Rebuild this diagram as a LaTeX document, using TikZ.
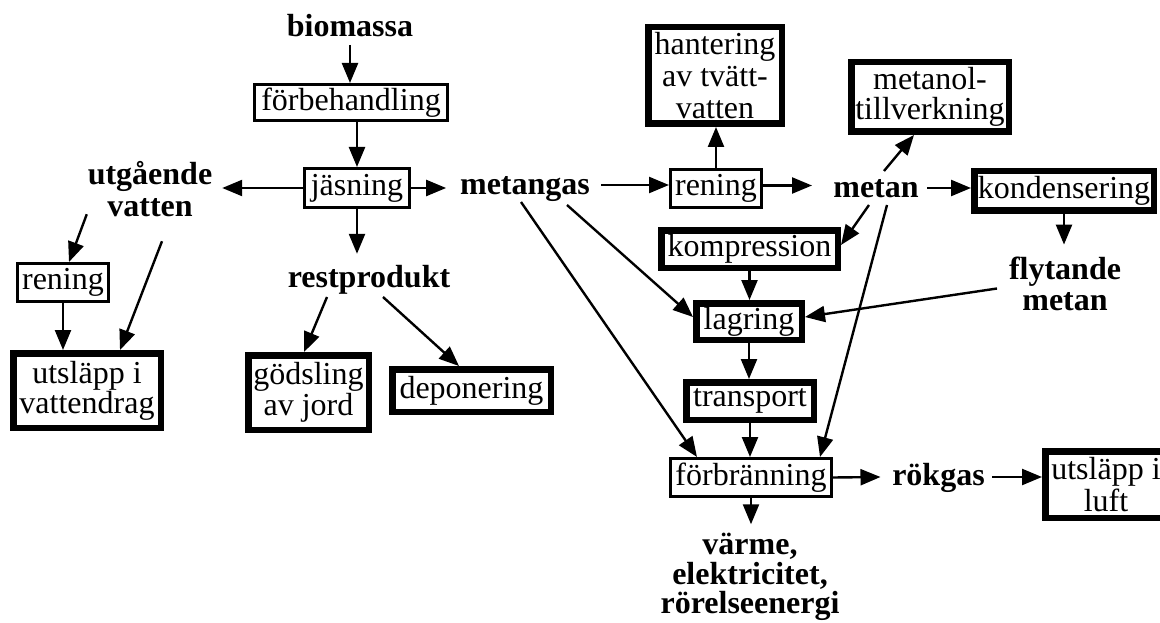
\documentclass[tikz,border=0pt]{standalone}
\usepackage{fontspec}
\setmainfont{Liberation Serif}
\usetikzlibrary{arrows.meta,calc}
\tikzset{
  txt/.style={font=\fontsize{32}{31}\selectfont, align=center, inner sep=0pt, outer sep=0pt},
  lab/.style={txt, font=\fontsize{32}{31}\selectfont\bfseries},
  thinbox/.style={txt, draw, line width=2.6pt, outer sep=1.3pt},
  thickbox/.style={txt, draw, line width=6.5pt, outer sep=3.25pt},
  arr/.style={line width=2.4pt, -{Triangle[length=20pt,width=16pt]}}
}
\begin{document}
\begin{tikzpicture}[x=1pt,y=-1pt]
\useasboundingbox (0,0) rectangle (1160,623);
\fill[white] (0,0) rectangle (1160,623);
% labels
\node[lab, anchor=base] (bio) at (350,37) {biomassa};
\node[lab, font=\fontsize{32}{32}\selectfont\bfseries] (utg) at (150,189.5) {utgående\\vatten};
\node[lab, anchor=base] (mg) at (525,194) {metangas};
\node[lab, anchor=base] (rest) at (369,287) {restprodukt};
\node[lab, anchor=base] (metan) at (876,197) {metan};
\node[lab] (flyt) at (1065,283.5) {flytande\\metan};
\node[lab, font=\fontsize{32}{29.5}\selectfont\bfseries] (varme) at (750,577) {värme,\\elektricitet,\\rörelseenergi};
\node[lab, anchor=base] (rok) at (938.5,485) {rökgas};
% boxes
\node[thinbox, minimum width=193.4, minimum height=36.4] (forb) at (351,102.5) {förbehandling};
\node[thinbox, minimum width=105.4, minimum height=39.4] (jas) at (357,188) {jäsning};
\node[thinbox, minimum width=91.4, minimum height=38.4] (renL) at (63,282.5) {rening};
\node[thinbox, minimum width=91.4, minimum height=38.4] (renM) at (716,188.5) {rening};
\node[thinbox, minimum width=161.4, minimum height=38.4] (forbr) at (751,477.5) {förbränning};
\node[thickbox, minimum width=147.5, minimum height=74.5, font=\fontsize{32}{30}\selectfont] (utsV) at (87,390.5) {utsläpp i\\vattendrag};
\node[thickbox, minimum width=120.5, minimum height=74.5] (gods) at (308.5,392.5) {gödsling\\av jord};
\node[thickbox, minimum width=158.5, minimum height=42.5] (depo) at (471.5,390.5) {deponering};
\node[thickbox, minimum width=133.5, minimum height=96.5, font=\fontsize{32}{32}\selectfont] (hant) at (715,75.5) {hantering\\av tvätt-\\vatten};
\node[thickbox, minimum width=157.5, minimum height=69.5, font=\fontsize{32}{30}\selectfont] (metanol) at (930,97) {metanol-\\tillverkning};
\node[thickbox, minimum width=179.5, minimum height=39.5] (kond) at (1064,191) {kondensering};
\node[thickbox, minimum width=176.5, minimum height=37.5] (kompr) at (749.5,249) {kompression};
\node[thickbox, minimum width=105.5, minimum height=36.5] (lag) at (749,321.5) {lagring};
\node[thickbox, minimum width=127.5, minimum height=37.5] (trans) at (750,401) {transport};
\node[thickbox, minimum width=121.5, minimum height=66.5, font=\fontsize{32}{32}\selectfont] (luft) at (1106,484.5) {utsläpp i\\luft};
% connectors
\draw[arr] ($(bio.base)+(0,8)$) -- (bio.base |- forb.north);
\draw[arr] (forb.south -| jas.north) -- (jas.north);
\draw[arr] (jas.west) -- ($(jas.west -| utg.east)+(10,0)$);
\draw[arr] (jas.east) -- ($(jas.east -| mg.west)+(-14,0)$);
\draw[arr] (jas.south) -- ($(jas.south |- rest.north)+(0,-11)$);
\draw[arr] ($(utg.south west)+(-1,-3)$) -- ($(renL.north)+(6,0)$);
\draw[arr] ($(utg.south)+(12,24)$) -- ($(utsV.north)+(33,0)$);
\draw[arr] (renL.south) -- (renL.south |- utsV.north);
\draw[arr] ($(rest.base)+(-42,10)$) -- ($(gods.north)+(-4.5,0)$);
\draw[arr] ($(rest.base)+(14,10)$) -- ($(depo.north)+(-12.5,0)$);
\draw[arr] ($(mg.base)+(76,-9)$) -- ($(renM.west)+(0,-3.5)$);
\draw[arr] (renM.north) -- (renM.north |- hant.south);
\draw[arr] ($(renM.east)+(0,-3)$) -- ($(metan.base)+(-64,-11.5)$);
\draw[arr] ($(metan.base)+(51,-9)$) -- ($(kond.west)+(0,-3)$);
\draw[arr] ($(metan.base)+(8,-26)$) -- ($(metanol.south)+(-16,0)$);
\draw[arr] ($(metan.base)+(-7,8)$) -- ($(kompr.east)+(0,-4)$);
\draw[arr] ($(metan.base)+(11,8)$) -- ($(forbr.north)+(69,0)$);
\draw[arr] (kond.south) -- ($(kond.south |- flyt.north)+(0,-12)$);
\draw[arr] ($(flyt.center)+(-68,5)$) -- ($(lag.east)+(0,-4.5)$);
\draw[arr] ($(mg.base)+(42,11)$) -- ($(lag.west)+(0,-4.5)$);
\draw[arr] ($(mg.base)+(-4,8)$) -- ($(forbr.north)+(-54,0)$);
\draw[arr] (kompr.south) -- (kompr.south |- lag.north);
\draw[arr] (lag.south) -- (lag.south |- trans.north);
\draw[arr] (trans.south) -- (trans.south |- forbr.north);
\draw[arr] (forbr.south) -- ($(forbr.south |- varme.north)+(0,-9)$);
\draw[arr] (forbr.east) -- ($(rok.base)+(-58,-8)$);
\draw[arr] ($(rok.base)+(53.5,-8)$) -- ($(luft.west)+(0,-7.5)$);
\end{tikzpicture}
\end{document}
